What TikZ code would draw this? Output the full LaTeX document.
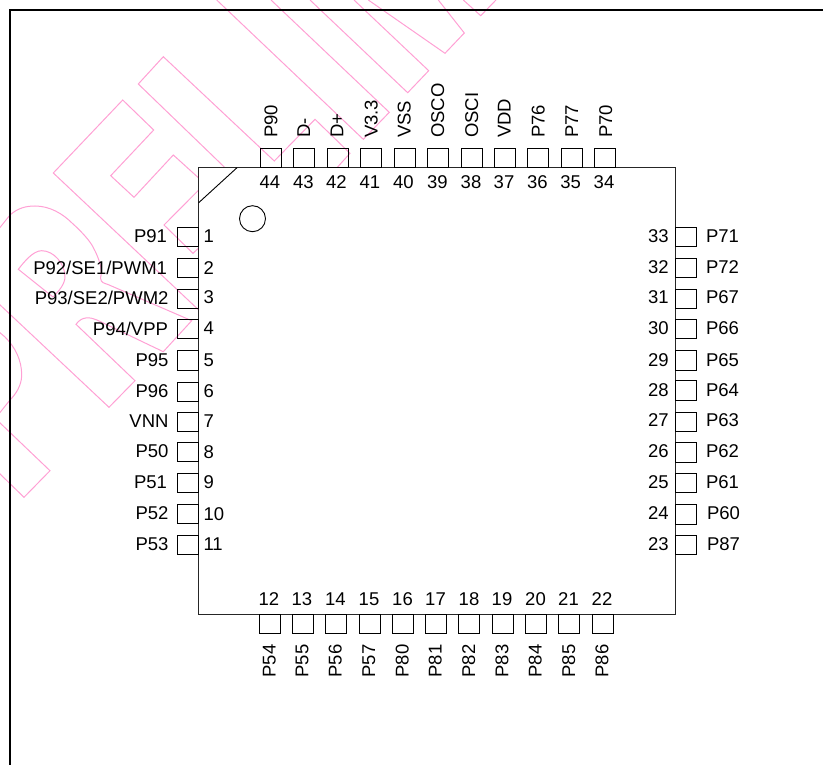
\documentclass[tikz,border=0pt]{standalone}
\usepackage{fontspec}
\setmainfont{Liberation Sans}
\definecolor{wm}{RGB}{255,160,212}
\tikzset{
  wmline/.style={draw=wm,line width=1pt,line join=miter},
  pinbox/.style={draw=black,line width=0.9pt,minimum width=21pt,minimum height=19.3pt,inner sep=0pt,outer sep=0pt},
  txt/.style={inner sep=0pt,outer sep=0pt,font=\fontsize{18.5}{20}\selectfont,text=black},
}
\begin{document}
\begin{tikzpicture}[x=1pt,y=-1pt]
\useasboundingbox (0,0) rectangle (823,765);
\begin{scope}
\clip (0,0) rectangle (823,765);
% watermark outlines
\draw[wmline] (225,167.7) -- (138.3,84) -- (163.3,56.7) -- (274.3,161) -- (315,119.3) -- (350,153.3) -- (337,167.7);
\draw[wmline] (198.7,178) -- (173.3,155) -- (134,197.3) -- (110.7,175.7) -- (153.7,130) -- (122.7,100) -- (53.3,173) -- (198.7,310);
\draw[wmline] (198.7,190) -- (164,225) -- (193,253.3) -- (198.7,248);
\draw[wmline] (-2,230) -- (10,215) .. controls (18,208) and (26,206) .. (35,206) .. controls (50,206) and (63,214) .. (72,223) .. controls (82,232) and (90,241) .. (93,247) .. controls (99,258) and (103,270) .. (100.5,278) .. controls (101,283) and (104,283) .. (108,284.5) -- (191.7,320.7) -- (163.3,351.7) -- (97,320) .. controls (90,317) and (82,316) .. (76,324.3) -- (135,380.7) -- (109,407.3) -- (-2,303);
\draw[wmline] (18.3,269.3) .. controls (24,262) and (33,250.7) .. (41.7,250.7) .. controls (54,250.7) and (65,264) .. (65,276.7) .. controls (65,284) and (59,291) .. (53,297) -- cycle;
\draw[wmline] (-2,331) -- (5,337) .. controls (15,347) and (21.7,360) .. (21.7,375) .. controls (21.7,386) and (15,395) .. (10,400) -- (-2,415);
\draw[wmline] (-2,421) -- (50,470.7) -- (24,497.3) -- (-2,472);
\draw[wmline] (216.7,0) -- (363.3,139.3) -- (389.3,112.3) -- (271,0);
\draw[wmline] (310,0) -- (407.7,92.7) -- (428.7,70.7) -- (354,0);
\draw[wmline] (368.3,0) -- (445,53.3) -- (464.3,33) -- (438.3,0);
\draw[wmline] (463.3,0) -- (480.7,15.7) -- (496,0);
\end{scope}
% frame
\draw[line width=2.2pt,black] (10,765) -- (10,10) -- (823,10);
% chip body
\node[draw=black!85,fill=white,line width=0.9pt,inner sep=0pt,outer sep=0pt,minimum width=476.6pt,minimum height=446.3pt] (chip) at (437,390.85) {};
\coordinate (ca) at (237,167.7);
\coordinate (cb) at (198.7,202.7);
\draw[line width=0.9pt] (ca) -- (cb);
\draw[line width=0.9pt] (252.5,218.7) circle (13pt);
% top pins: number, pin centre, number centre, label baseline x, label
\foreach \n/\x/\nx/\lx/\t in {44/270.5/270/277.3/P90,43/304/303.3/310/D-,42/337.5/336.3/343.3/D+,41/371/370/377.7/V3.3,40/404.5/403.3/410.7/VSS,39/437.8/437.3/444/OSCO,38/471.7/471/478/OSCI,37/505/504/510.7/VDD,36/538/537.3/544.7/P76,35/572/570.7/578/P77,34/605/604/612/P70}{
  \node[pinbox] (pin\n) at (\x,158.05) {};
  \node[txt,anchor=base] (num\n) at (\nx,188.7) {\n};
  \node[txt,anchor=base west,rotate=90] (lab\n) at (\lx,138) {\t};
}
% bottom pins
\foreach \n/\x/\nx/\lx/\t in {12/269.5/268.8/275.7/P54,13/302.8/302/308.3/P55,14/336/335.5/341.7/P56,15/369.5/369/375/P57,16/402.8/402.5/408.7/P80,17/436/435.5/441.7/P81,18/469.3/469/475/P82,19/502.5/502/508.3/P83,20/536/535.5/541.7/P84,21/569.3/568.5/575/P85,22/602.7/602/608.3/P86}{
  \node[pinbox] (pin\n) at (\x,623.65) {};
  \node[txt,anchor=base] (num\n) at (\nx,605) {\n};
  \node[txt,anchor=base west,rotate=90] (lab\n) at (\lx,677.5) {\t};
}
% left pins: number, pin centre y, number baseline, label baseline, label right end, label
\foreach \n/\y/\nb/\lb/\lr/\t in {1/237/243/243/167/P91,2/267.7/274/274/167/P92\slash SE1\slash PWM1,3/298.7/304/305/168.5/P93\slash SE2\slash PWM2,4/329/334.3/335/168/P94\slash VPP,5/360.3/366/366/168.5/P95,6/391.7/397/397.7/168.5/P96,7/421.7/427.7/427/168.5/VNN,8/451.7/458/457.7/168.5/P50,9/483/488.7/488.7/167/P51,10/513.7/520/519/168.5/P52,11/545/550.7/550.7/168.5/P53}{
  \node[pinbox] (pin\n) at (188.35,\y) {};
  \node[txt,anchor=base west] (num\n) at (203.5,\nb) {\n};
  \node[txt,anchor=base east] (lab\n) at (\lr,\lb) {\t};
}
% right pins
\foreach \n/\y/\nb/\lx/\t in {33/237/242.7/706/P71,32/267.7/273.3/706/P72,31/299/304/706/P67,30/329/334.7/706/P66,29/360.3/366/706/P65,28/390.3/396.7/706/P64,27/421.7/426.7/706/P63,26/452.3/457.7/706/P62,25/483/488.7/706/P61,24/514.3/519.3/707/P60,23/544.7/550.7/707/P87}{
  \node[pinbox] (pin\n) at (686,\y) {};
  \node[txt,anchor=base east] (num\n) at (668.6,\nb) {\n};
  \node[txt,anchor=base west] (lab\n) at (\lx,\nb) {\t};
}
\end{tikzpicture}
\end{document}
